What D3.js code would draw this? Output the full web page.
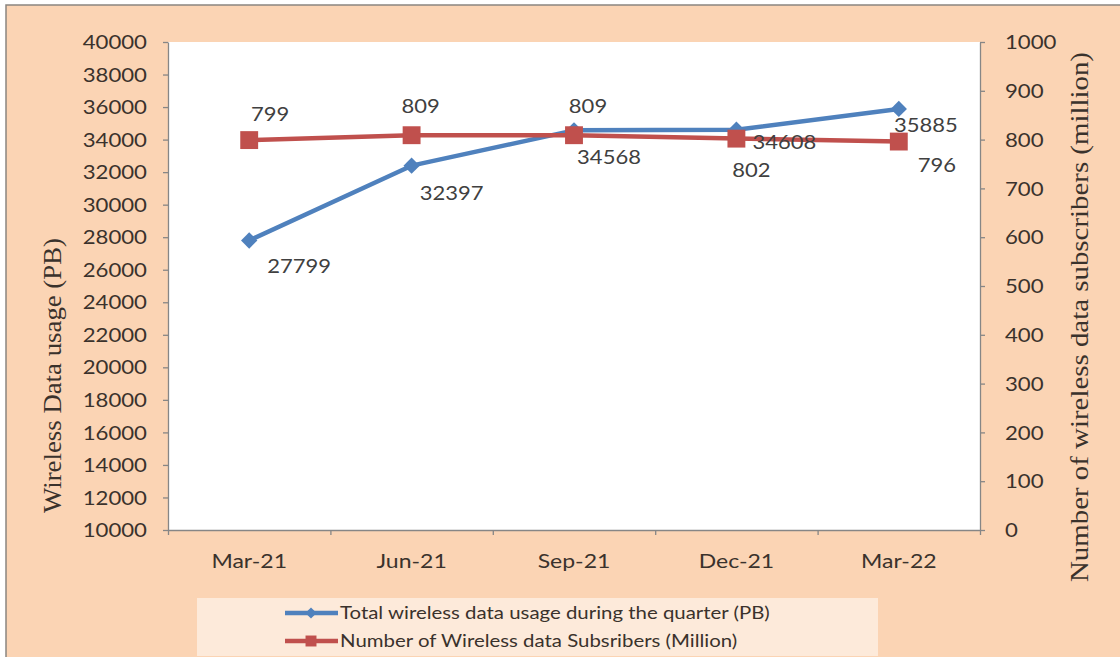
<!DOCTYPE html>
<html>
<head>
<meta charset="utf-8">
<script src="https://cdn.jsdelivr.net/npm/d3@7"></script>
<style>
  html, body { margin: 0; padding: 0; background: #ffffff; }
  svg { display: block; }
</style>
</head>
<body>
<svg id="chart" width="1120" height="657"></svg>
<script>
// ---------------- data ----------------
const categories = ["Mar-21", "Jun-21", "Sep-21", "Dec-21", "Mar-22"];
const usagePB = [27799, 32397, 34568, 34608, 35885];
const subscribersMillion = [799, 809, 809, 802, 796];
const leftTicks = [10000, 12000, 14000, 16000, 18000, 20000, 22000, 24000, 26000, 28000, 30000, 32000, 34000, 36000, 38000, 40000];
const rightTicks = [0, 100, 200, 300, 400, 500, 600, 700, 800, 900, 1000];
const seriesNames = [
  "Total wireless data usage during the quarter (PB)",
  "Number of Wireless data Subsribers (Million)"
];
const leftTitle = "Wireless Data usage (PB)";
const rightTitle = "Number of wireless data subscribers (million)";

// ---------------- layout / style ----------------
const svg = d3.select("#chart");
const W = 1120, H = 657;
const plot = { left: 168, right: 980, top: 42, bottom: 530 };
const BLUE = "#4F81BD", RED = "#C0504D";
const AXIS = "#868686";
const TXT = "#3a322c";
const LBL = "#404040";

// background
svg.append("rect").attr("x", 0).attr("y", 0).attr("width", W).attr("height", H).attr("fill", "#ffffff");
svg.append("rect").attr("x", 6).attr("y", 5).attr("width", W + 10).attr("height", H + 10)
  .attr("fill", "#FBD4B4").attr("stroke", "#8a8580").attr("stroke-width", 1.5);

// plot area
svg.append("rect").attr("x", plot.left).attr("y", plot.top)
  .attr("width", plot.right - plot.left).attr("height", plot.bottom - plot.top)
  .attr("fill", "#ffffff");

// scales
const x = d3.scaleBand().domain(categories).range([plot.left, plot.right]).padding(0);
const xEdge = d3.scaleLinear().domain([0, categories.length]).range([plot.left, plot.right]);
const yL = d3.scaleLinear().domain([10000, 40000]).range([plot.bottom, plot.top]);
const yR = d3.scaleLinear().domain([0, 1000]).range([plot.bottom, plot.top]);
const cx = c => x(c) + x.bandwidth() / 2;

function styleAxis(g) {
  g.select(".domain").attr("stroke", AXIS).attr("stroke-width", 1.3);
  g.selectAll(".tick line").attr("stroke", AXIS).attr("stroke-width", 1.3);
}

// left axis
const gL = svg.append("g").attr("transform", `translate(${plot.left},0)`)
  .call(d3.axisLeft(yL).tickValues(leftTicks).tickSize(5).tickSizeOuter(0).tickFormat(d3.format("d")));
styleAxis(gL);
gL.selectAll(".tick text")
  .attr("x", 0).attr("dy", "0.36em")
  .attr("transform", "translate(-21,0) scale(1.2,1)")
  .attr("text-anchor", "end")
  .style("font-family", "Lato, 'Open Sans', sans-serif").style("font-size", "18.5px").attr("fill", TXT);

// right axis
const gR = svg.append("g").attr("transform", `translate(${plot.right},0)`)
  .call(d3.axisRight(yR).tickValues(rightTicks).tickSize(5).tickSizeOuter(0).tickFormat(d3.format("d")));
styleAxis(gR);
gR.selectAll(".tick text")
  .attr("x", 0).attr("dy", "0.36em")
  .attr("transform", "translate(25,0) scale(1.2,1)")
  .attr("text-anchor", "start")
  .style("font-family", "Lato, 'Open Sans', sans-serif").style("font-size", "18.5px").attr("fill", TXT);

// bottom axis: tick marks at category boundaries
const gBT = svg.append("g").attr("transform", `translate(0,${plot.bottom})`)
  .call(d3.axisBottom(xEdge).ticks(categories.length).tickSize(5).tickSizeOuter(0).tickFormat(""));
styleAxis(gBT);
// bottom axis: labels at category centres
const gB = svg.append("g").attr("transform", `translate(0,${plot.bottom})`)
  .call(d3.axisBottom(x).tickSize(0));
gB.select(".domain").remove();
gB.selectAll(".tick text")
  .attr("y", 0).attr("dy", "0.36em")
  .attr("transform", "translate(0,31) scale(1.15,1)")
  .style("font-family", "Lato, 'Open Sans', sans-serif").style("font-size", "20px").attr("fill", TXT);

// axis titles
svg.append("text")
  .attr("transform", `translate(52,${(238 + 513) / 2}) rotate(-90)`)
  .attr("text-anchor", "middle").attr("dy", "0.35em")
  .attr("textLength", 275).attr("lengthAdjust", "spacingAndGlyphs")
  .style("font-family", "'Liberation Serif', 'Times New Roman', serif").style("font-size", "25px")
  .attr("fill", TXT).text(leftTitle);
svg.append("text")
  .attr("transform", `translate(1079,${(52 + 582) / 2}) rotate(-90)`)
  .attr("text-anchor", "middle").attr("dy", "0.35em")
  .attr("textLength", 530).attr("lengthAdjust", "spacingAndGlyphs")
  .style("font-family", "'Liberation Serif', 'Times New Roman', serif").style("font-size", "25px")
  .attr("fill", TXT).text(rightTitle);

// series lines
const lineL = d3.line().x((d, i) => cx(categories[i])).y(d => yL(d));
const lineR = d3.line().x((d, i) => cx(categories[i])).y(d => yR(d));

svg.append("path").datum(usagePB).attr("d", lineL)
  .attr("fill", "none").attr("stroke", BLUE).attr("stroke-width", 4.5).attr("stroke-linejoin", "round");
svg.append("path").datum(subscribersMillion).attr("d", lineR)
  .attr("fill", "none").attr("stroke", RED).attr("stroke-width", 4.5).attr("stroke-linejoin", "round");

const diamond = d3.symbol().type(d3.symbolDiamond2).size(170);
const square = d3.symbol().type(d3.symbolSquare).size(320);

svg.append("g").selectAll("path").data(usagePB).join("path")
  .attr("d", diamond)
  .attr("transform", (d, i) => `translate(${cx(categories[i])},${yL(d)})`)
  .attr("fill", BLUE);
svg.append("g").selectAll("path").data(subscribersMillion).join("path")
  .attr("d", square)
  .attr("transform", (d, i) => `translate(${cx(categories[i])},${yR(d)})`)
  .attr("fill", RED);

// data labels (offsets from point, text centre)
const usageLabelOffset = [[50, 25], [40, 27], [35, 26], [48, 12], [27, 16]];
const subsLabelOffset = [[21, -26], [9, -29], [14, -29], [15, 31], [38, 23]];
function dataLabels(vals, yScale, offs) {
  svg.append("g").selectAll("text").data(vals).join("text")
    .attr("transform", (d, i) => `translate(${cx(categories[i]) + offs[i][0]},${yScale(d) + offs[i][1]}) scale(1.1,1)`)
    .attr("text-anchor", "middle").attr("dy", "0.36em")
    .style("font-family", "Lato, 'Open Sans', sans-serif").style("font-size", "20px")
    .attr("fill", LBL).text(d => d);
}
dataLabels(usagePB, yL, usageLabelOffset);
dataLabels(subscribersMillion, yR, subsLabelOffset);

// legend
const leg = svg.append("g");
leg.append("rect").attr("x", 197).attr("y", 598).attr("width", 681).attr("height", 58)
  .attr("fill", "#FDEADA");
const legItems = [
  { name: seriesNames[0], color: BLUE, sym: d3.symbol().type(d3.symbolDiamond2).size(80), y: 613 },
  { name: seriesNames[1], color: RED, sym: d3.symbol().type(d3.symbolSquare).size(120), y: 641 }
];
legItems.forEach(it => {
  leg.append("line").attr("x1", 285).attr("x2", 338).attr("y1", it.y).attr("y2", it.y)
    .attr("stroke", it.color).attr("stroke-width", 4.5);
  leg.append("path").attr("d", it.sym).attr("transform", `translate(311,${it.y})`).attr("fill", it.color);
  leg.append("text").attr("transform", `translate(340,${it.y}) scale(1.2,1)`)
    .attr("dy", "0.36em")
    .style("font-family", "Lato, 'Open Sans', sans-serif").style("font-size", "17px")
    .attr("fill", TXT).text(it.name);
});
</script>
</body>
</html>
